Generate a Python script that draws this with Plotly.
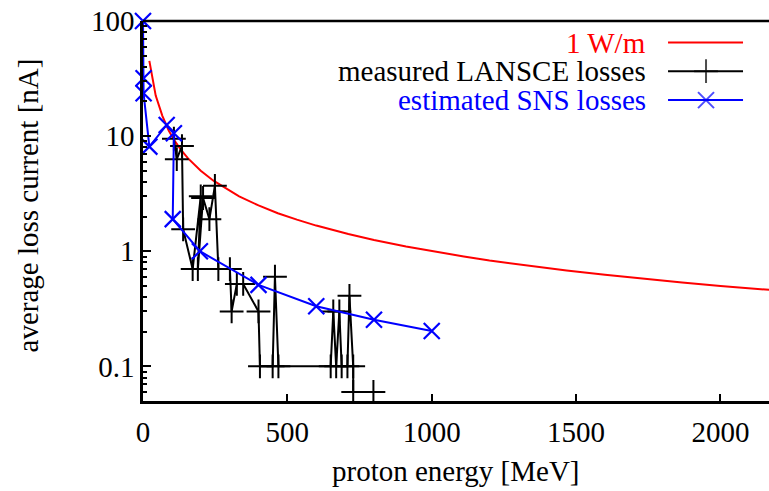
import plotly.graph_objects as go

# ---------------- data ----------------
# 1 W/m limit (red)
E_limit = [22, 44, 67, 89, 111, 133, 156, 178, 200, 244, 289, 333, 400, 467, 533,
           600, 711, 800, 911, 1000, 1111, 1200, 1333, 1467, 1600, 1733, 1867, 2000,
           2133, 2200]
I_limit = [45, 22.5, 15, 11.2, 9.0, 7.5, 6.4, 5.6, 5.0, 4.1, 3.5, 3.0, 2.5, 2.14, 1.88,
           1.67, 1.41, 1.25, 1.10, 1.0, 0.90, 0.83, 0.75, 0.68, 0.625, 0.577, 0.536, 0.5,
           0.469, 0.455]

# measured LANSCE losses (black)
E_lansce = [107, 117, 135, 139, 172, 200, 190, 208, 230, 249, 261, 301, 307, 325, 347,
            400, 405, 449, 457, 469, 650, 659, 669, 680, 688, 708, 715, 728, 728, 798]
I_lansce = [9.5, 6.3, 8.2, 1.55, 0.7, 3.0, 0.7, 2.9, 1.9, 3.7, 0.7, 0.7, 0.3, 0.52, 0.52,
            0.3, 0.1, 0.1, 0.6, 0.1, 0.1, 0.3, 0.1, 0.3, 0.1, 0.1, 0.41, 0.1, 0.06, 0.06]

# estimated SNS losses (blue)
E_sns = [0, 2, 2, 22, 82, 107, 103, 197, 400, 600, 800, 1000]
I_sns = [100, 31.8, 23.6, 8.1, 12.5, 10.6, 1.9, 1.0, 0.51, 0.333, 0.254, 0.203]

legend_labels = ["1 W/m", "measured LANSCE losses", "estimated SNS losses"]
x_ticks = [0, 500, 1000, 1500, 2000]
y_ticks = [0.1, 1, 10, 100]
y_ticktext = ["0.1", "1", "10", "100"]
y_minor = [0.06, 0.07, 0.08, 0.09, 0.2, 0.3, 0.4, 0.5, 0.6, 0.7, 0.8, 0.9,
           2, 3, 4, 5, 6, 7, 8, 9, 20, 30, 40, 50, 60, 70, 80, 90]

RED, BLACK, BLUE = "#ff0000", "#000000", "#0000ff"
FONT = "Liberation Serif, Times New Roman, serif"
FS = 29

fig = go.Figure()

fig.add_trace(go.Scatter(x=E_limit, y=I_limit, mode="lines",
                         line=dict(color=RED, width=2), showlegend=False))
fig.add_trace(go.Scatter(x=E_lansce, y=I_lansce, mode="lines+markers",
                         line=dict(color=BLACK, width=2),
                         marker=dict(symbol="cross-thin-open", size=17,
                                     line=dict(color=BLACK, width=2)),
                         showlegend=False, cliponaxis=False))
fig.add_trace(go.Scatter(x=E_sns, y=I_sns, mode="lines+markers",
                         line=dict(color=BLUE, width=2),
                         marker=dict(symbol="x-thin-open", size=16,
                                     line=dict(color=BLUE, width=2.2)),
                         showlegend=False, cliponaxis=False))

# ---- gnuplot-style key (text right-aligned, sample to the right) ----
key_rows = [(0.9433, RED, None), (0.8680, BLACK, "cross-thin-open"), (0.7918, BLUE, "x-thin-open")]
kx0, kxm, kx1 = 0.8387, 0.8994, 0.9585
for (ky, col, sym), lab in zip(key_rows, legend_labels):
    fig.add_trace(go.Scatter(
        x=[kx0, kxm, kx1], y=[ky, ky, ky], xaxis="x2", yaxis="y2",
        mode="lines+markers" if sym else "lines",
        line=dict(color=col, width=2),
        marker=dict(symbol=sym or "circle", size=[0, 17 if sym == "cross-thin-open" else 16, 0],
                    line=dict(color=col, width=2)),
        showlegend=False, hoverinfo="skip", cliponaxis=False))
    fig.add_annotation(xref="paper", yref="paper", x=0.8067, y=ky,
                       xanchor="right", yanchor="middle", text=lab, showarrow=False,
                       height=28, font=dict(family=FONT, size=FS, color=col))

# axis titles
fig.add_annotation(xref="paper", yref="paper", x=0.5, y=-0.184, xanchor="center",
                   yanchor="middle", text="proton energy [MeV]", showarrow=False,
                   font=dict(family=FONT, size=FS, color=BLACK))
fig.add_annotation(xref="paper", yref="paper", x=-0.184, y=0.514, xanchor="center",
                   yanchor="middle", text="average loss current [nA]", showarrow=False,
                   textangle=-90, font=dict(family=FONT, size=FS, color=BLACK))

# top border line
fig.add_shape(type="line", xref="paper", yref="paper", x0=0, x1=1, y0=1, y1=1,
              line=dict(color=BLACK, width=2.5))

fig.update_layout(
    width=769, height=491,
    margin=dict(l=143, r=0, t=21, b=90),
    paper_bgcolor="white", plot_bgcolor="white",
    font=dict(family=FONT, size=FS, color=BLACK),
    showlegend=False,
    xaxis=dict(range=[0, 2168], tickvals=x_ticks, ticks="inside", ticklen=7,
               tickwidth=1.5, tickcolor=BLACK, showline=True, linecolor=BLACK,
               linewidth=2.5, showgrid=False, zeroline=False, mirror=False,
               ticklabelstandoff=3, tickfont=dict(family=FONT, size=FS)),
    yaxis=dict(type="log", range=[-1.301, 2], tickvals=y_ticks, ticktext=y_ticktext,
               ticks="inside", ticklen=8, tickwidth=1.5, tickcolor=BLACK,
               showline=True, linecolor=BLACK, linewidth=2.5, showgrid=False,
               zeroline=False, mirror=False, tickfont=dict(family=FONT, size=FS),
               minor=dict(tickmode="array", tickvals=y_minor, ticks="inside",
                          ticklen=4, tickwidth=1.5, tickcolor=BLACK, showgrid=False)),
    xaxis2=dict(overlaying="x", range=[0, 1], visible=False, fixedrange=True),
    yaxis2=dict(overlaying="y", range=[0, 1], visible=False, fixedrange=True),
)

fig.write_html("out.html",
               config={"displayModeBar": False},
               post_script="document.body.style.margin='0px';"
                           "document.body.style.overflow='hidden';")
